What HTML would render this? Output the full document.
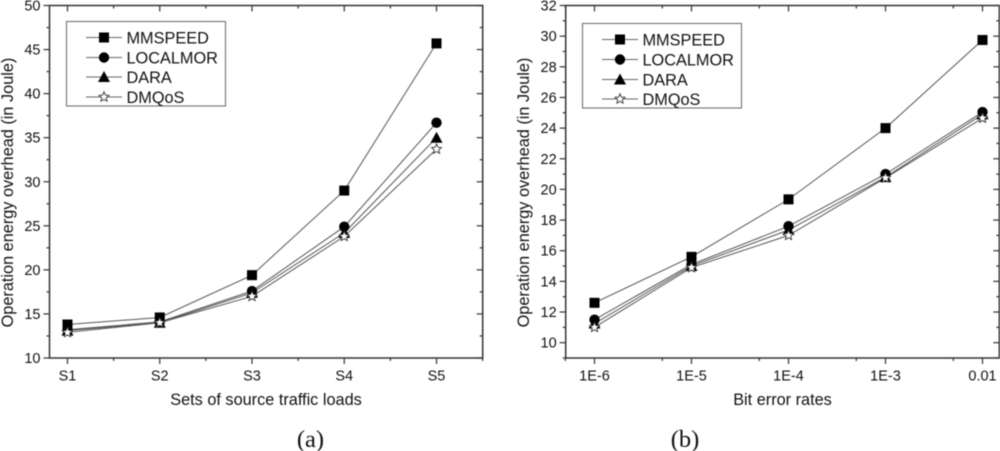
<!DOCTYPE html>
<html lang="en">
<head>
<meta charset="utf-8">
<title>Operation energy overhead charts</title>
<style>
html,body{margin:0;padding:0;background:#fff;}
body{width:1000px;height:451px;overflow:hidden;}
svg{display:block;filter:blur(0.4px);}
text{font-family:"Liberation Sans",sans-serif;fill:#111;}
.cap{font-family:"Liberation Serif",serif;font-size:24.5px;}
</style>
</head>
<body>
<svg id="figure" width="1000" height="451" viewBox="0 0 1000 451" xmlns="http://www.w3.org/2000/svg">
<text class="cap" x="310.5" y="447" text-anchor="middle">(a)</text>
<text class="cap" x="685" y="447" text-anchor="middle">(b)</text>
</svg>
<script>
var seriesNames = ['MMSPEED', 'LOCALMOR', 'DARA', 'DMQoS'];
var seriesMarkers = ['square', 'circle', 'triangle', 'star'];

var categoriesA = ['S1', 'S2', 'S3', 'S4', 'S5'];
var mmspeedA = [13.8, 14.6, 19.4, 29, 45.7];
var localmorA = [13.2, 14.1, 17.6, 24.9, 36.7];
var daraA = [13.1, 14.0, 17.4, 24.2, 35];
var dmqosA = [12.9, 14.0, 17.0, 23.8, 33.7];
var yTicksA = [10, 15, 20, 25, 30, 35, 40, 45, 50];
var yMinorA = [12.5, 17.5, 22.5, 27.5, 32.5, 37.5, 42.5, 47.5];

var categoriesB = ['1E-6', '1E-5', '1E-4', '1E-3', '0.01'];
var rateValuesB = [1e-6, 1e-5, 1e-4, 1e-3, 1e-2];
var rateMinorB = [5e-7, 5e-6, 5e-5, 5e-4, 5e-3];
var mmspeedB = [12.6, 15.6, 19.35, 24, 29.75];
var localmorB = [11.5, 15.1, 17.6, 21, 25.05];
var daraB = [11.25, 15.0, 17.35, 20.8, 24.9];
var dmqosB = [11, 14.9, 17, 20.75, 24.65];
var yTicksB = [10, 12, 14, 16, 18, 20, 22, 24, 26, 28, 30, 32];
var yMinorB = [9, 11, 13, 15, 17, 19, 21, 23, 25, 27, 29, 31];

var svg = document.getElementById('figure');
var NS = 'http://www.w3.org/2000/svg';
var DARK = '#333';
var LINE = '#555';

function mk(tag, attrs, parent, text) {
  var el = document.createElementNS(NS, tag);
  for (var k in attrs) el.setAttribute(k, attrs[k]);
  if (text !== undefined) el.textContent = text;
  (parent || svg).appendChild(el);
  return el;
}

function drawMarker(kind, x, y, parent) {
  var el, i, pts, r;
  if (kind === 'square') {
    el = mk('rect', {x: x - 5, y: y - 5, width: 10, height: 10, fill: '#000'}, parent);
  } else if (kind === 'circle') {
    el = mk('circle', {cx: x, cy: y, r: 5.2, fill: '#000'}, parent);
  } else if (kind === 'triangle') {
    el = mk('polygon', {points: (x - 6) + ',' + (y + 5) + ' ' + (x + 6) + ',' + (y + 5) + ' ' + x + ',' + (y - 6), fill: '#000'}, parent);
  } else {
    pts = [];
    for (i = 0; i < 10; i++) {
      r = i % 2 ? 2.4 : 5.2;
      pts.push((x + r * Math.sin(i * Math.PI / 5)).toFixed(2) + ',' + (y - r * Math.cos(i * Math.PI / 5)).toFixed(2));
    }
    el = mk('polygon', {points: pts.join(' '), fill: '#fff', stroke: '#333', 'stroke-width': 0.9}, parent);
  }
  
  
  return el;
}

function drawChart(c) {
  var g = mk('g', {});
  
  

  function tick(x1, y1, x2, y2, name) {
    var t = mk('line', {x1: x1, y1: y1, x2: x2, y2: y2, stroke: DARK, 'stroke-width': 1.2}, g);
    
    
  }

  var frame = mk('rect', {x: c.left, y: c.top, width: c.right - c.left, height: c.bottom - c.top, fill: 'none', stroke: DARK, 'stroke-width': 1.5}, g);
  
  

  c.yTicks.forEach(function (v) {
    var y = c.yScale(v);
    tick(c.left - 6, y, c.left, y, 'y-tick');
    tick(c.right - 6, y, c.right, y, 'y-tick-right');
    var lab = mk('text', {x: c.left - 9, y: y + 5, 'text-anchor': 'end', 'font-size': 14.5}, g, v);
    
    
  });
  c.yMinor.forEach(function (v) {
    var y = c.yScale(v);
    tick(c.left - 3, y, c.left, y, 'y-minor-tick');
    tick(c.right - 3, y, c.right, y, 'y-minor-tick-right');
  });
  c.xMajor.forEach(function (x, i) {
    tick(x, c.bottom, x, c.bottom + 6, 'x-tick');
    tick(x, c.top, x, c.top + 6, 'x-tick-top');
    var lab = mk('text', {x: x, y: 380.5, 'text-anchor': 'middle', 'font-size': 14.5}, g, c.categories[i]);
    
    
  });
  c.xMinor.forEach(function (x) {
    tick(x, c.bottom, x, c.bottom + 3, 'x-minor-tick');
    tick(x, c.top, x, c.top + 3, 'x-minor-tick-top');
  });

  c.series.forEach(function (vals, s) {
    var pts = vals.map(function (v, i) { return c.xMajor[i] + ',' + c.yScale(v).toFixed(2); }).join(' ');
    var pl = mk('polyline', {points: pts, fill: 'none', stroke: LINE, 'stroke-width': 1}, g);
    
    
  });
  c.series.forEach(function (vals, s) {
    vals.forEach(function (v, i) {
      drawMarker(seriesMarkers[s], c.xMajor[i], c.yScale(v), g);
    });
  });

  var xt = mk('text', {x: c.xTitleX, y: 405, 'text-anchor': 'middle', 'font-size': 16.3}, g, c.xTitle);
  
  
  var yt = mk('text', {x: 0, y: 0, 'text-anchor': 'middle', 'font-size': 16.3, transform: 'translate(' + c.yTitleX + ',192.5) rotate(-90)'}, g, 'Operation energy overhead (in Joule)');
  
  

  var lg = mk('g', {}, g);
  
  
  var box = mk('rect', {x: c.lg.x, y: c.lg.y, width: c.lg.w, height: c.lg.h, fill: '#fff', stroke: '#666', 'stroke-width': 1}, lg);
  
  
  seriesNames.forEach(function (name, s) {
    var y = c.lg.rows[s];
    var l = mk('line', {x1: c.lg.x + 19.5, y1: y, x2: c.lg.x + 55.5, y2: y, stroke: '#666', 'stroke-width': 1}, lg);
    
    
    drawMarker(seriesMarkers[s], c.lg.x + 37.5, y, lg);
    var t = mk('text', {x: c.lg.x + 60, y: y + 6, 'font-size': 16.3}, lg, name);
    
    
  });
}

function linearY(dMin, dMax, pBottom, pTop) {
  return function (v) { return pBottom + (v - dMin) / (dMax - dMin) * (pTop - pBottom); };
}

var xA = function (i) { return 67.5 + i * 92.25; };
var xB = function (v) { return 594.5 + (Math.log(v) / Math.LN10 + 6) * 97; };

drawChart({
  id: 'chart-a',
  left: 49.5, right: 482.7, top: 5.5, bottom: 358,
  yScale: linearY(10, 50, 358, 5.5),
  yTicks: yTicksA, yMinor: yMinorA,
  categories: categoriesA,
  xMajor: categoriesA.map(function (_, i) { return xA(i); }),
  xMinor: categoriesA.map(function (_, i) { return xA(i + 0.5); }),
  series: [mmspeedA, localmorA, daraA, dmqosA],
  xTitle: 'Sets of source traffic loads', xTitleX: 266, yTitleX: 13,
  lg: {x: 66.5, y: 21.5, w: 159, h: 84.5, rows: [37.5, 57.5, 77, 97]}
});
drawChart({
  id: 'chart-b',
  left: 565.7, right: 999.3, top: 5.5, bottom: 358,
  yScale: linearY(9, 32, 358, 5.5),
  yTicks: yTicksB, yMinor: yMinorB,
  categories: categoriesB,
  xMajor: rateValuesB.map(xB),
  xMinor: rateMinorB.map(xB),
  series: [mmspeedB, localmorB, daraB, dmqosB],
  xTitle: 'Bit error rates', xTitleX: 782.5, yTitleX: 529,
  lg: {x: 582.5, y: 23.5, w: 159, h: 84.5, rows: [39.5, 59.5, 79.5, 99]}
});
</script>
</body>
</html>
